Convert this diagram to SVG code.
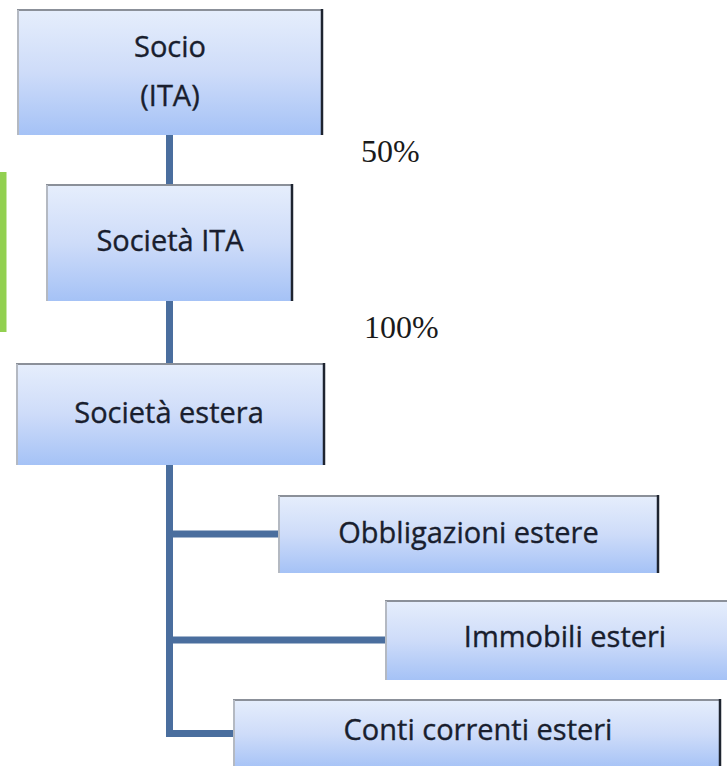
<svg xmlns="http://www.w3.org/2000/svg" width="727" height="766" viewBox="0 0 727 766">
  <defs>
    <linearGradient id="boxFill" x1="0" y1="0" x2="0" y2="1">
      <stop offset="0" stop-color="#e6eefc"/>
      <stop offset="0.5" stop-color="#cedcf9"/>
      <stop offset="1" stop-color="#a5c2f6"/>
    </linearGradient>
  </defs>
  <style>
    .box { fill: url(#boxFill); }
    .edge-top { stroke: #8b9099; stroke-width: 2; }
    .edge-left { stroke: #b4b9c2; stroke-width: 2; }
    .edge-right { stroke: #1e2430; stroke-width: 2.5; }
    .label { font-family: "Open Sans", "Liberation Sans", sans-serif; font-size: 29px; fill: #191e2e; stroke: #191e2e; stroke-width: 0.35; text-anchor: middle; }
    .pct { font-family: "Liberation Serif", "Times New Roman", serif; font-size: 32px; fill: #1a1a1a; }
    .link { fill: none; stroke: #4a6e9e; stroke-width: 7; stroke-linejoin: miter; stroke-linecap: butt; }
  </style>

  <rect width="727" height="766" fill="#ffffff"/>

  <!-- side marker bar -->
  <rect x="0" y="172" width="6.5" height="160" fill="#92d050"/>

  <!-- connectors -->
  <g id="connectors">
    <line class="link" x1="169.5" y1="135" x2="169.5" y2="184"/>
    <line class="link" x1="169.5" y1="301" x2="169.5" y2="363"/>
    <path class="link" d="M169.5 465 V733.5 H234"/>
    <line class="link" x1="166" y1="534" x2="279" y2="534"/>
    <line class="link" x1="166" y1="640" x2="386" y2="640"/>
  </g>

  <!-- owner -->
  <g id="socio">
    <rect class="box" x="17" y="9" width="306" height="126"/>
    <line class="edge-top" x1="17" y1="10" x2="323" y2="10"/>
    <line class="edge-left" x1="18" y1="10" x2="18" y2="135"/>
    <line class="edge-right" x1="322" y1="9" x2="322" y2="135"/>
    <text class="label" x="170" y="57">Socio</text>
    <text class="label" x="170" y="106">(ITA)</text>
  </g>

  <g id="societa-ita">
    <rect class="box" x="46" y="184" width="247" height="117"/>
    <line class="edge-top" x1="46" y1="185" x2="293" y2="185"/>
    <line class="edge-left" x1="47" y1="185" x2="47" y2="301"/>
    <line class="edge-right" x1="292" y1="184" x2="292" y2="301"/>
    <text class="label" x="170" y="251">Società ITA</text>
  </g>

  <g id="societa-estera">
    <rect class="box" x="16" y="363" width="309" height="102"/>
    <line class="edge-top" x1="16" y1="364" x2="325" y2="364"/>
    <line class="edge-left" x1="17" y1="364" x2="17" y2="465"/>
    <line class="edge-right" x1="324" y1="363" x2="324" y2="465"/>
    <text class="label" x="169" y="423">Società estera</text>
  </g>

  <g id="obbligazioni">
    <rect class="box" x="278" y="495" width="381" height="78"/>
    <line class="edge-top" x1="278" y1="496" x2="659" y2="496"/>
    <line class="edge-left" x1="279" y1="496" x2="279" y2="573"/>
    <line class="edge-right" x1="658" y1="495" x2="658" y2="573"/>
    <text class="label" x="468.5" y="543">Obbligazioni estere</text>
  </g>

  <g id="immobili">
    <rect class="box" x="385" y="600" width="360" height="80"/>
    <line class="edge-top" x1="385" y1="601" x2="745" y2="601"/>
    <line class="edge-left" x1="386" y1="601" x2="386" y2="680"/>
    <text class="label" x="565" y="647">Immobili esteri</text>
  </g>

  <g id="conti">
    <rect class="box" x="233" y="699" width="488" height="70"/>
    <line class="edge-top" x1="233" y1="700" x2="721" y2="700"/>
    <line class="edge-left" x1="234" y1="700" x2="234" y2="769"/>
    <line class="edge-right" x1="720" y1="699" x2="720" y2="769"/>
    <text class="label" x="478" y="740">Conti correnti esteri</text>
  </g>

  <!-- ownership shares -->
  <text class="pct" x="361" y="162">50%</text>
  <text class="pct" x="364" y="338">100%</text>
</svg>
